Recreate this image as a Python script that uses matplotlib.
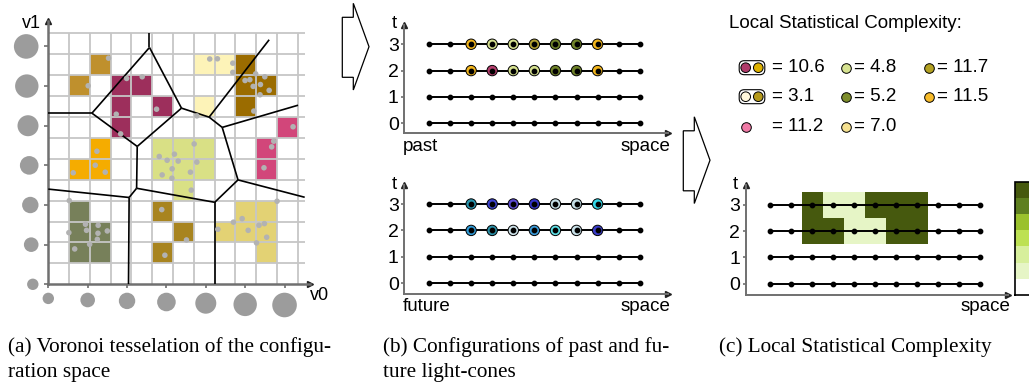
import numpy as np
import matplotlib
matplotlib.use("Agg")
import matplotlib.pyplot as plt
from matplotlib.patches import Rectangle, Polygon, FancyBboxPatch
from matplotlib.colors import ListedColormap, BoundaryNorm
from matplotlib.cm import ScalarMappable

plt.rcParams['font.family'] = 'Liberation Sans'

W, H = 1029, 382

# ---------------- (a) configuration space ----------------
cluster_colors = ['#bf902d', '#9d2f5c', '#fdf3b8', '#9b6c00', '#d2467a',
                  '#f5ac00', '#d9e085', '#77805a', '#a8841f', '#e3d274']
cluster_cells = [
    [(2, 10), (1, 9)],
    [(3, 9), (4, 9), (3, 8), (3, 7), (5, 8)],
    [(7, 10), (8, 10), (7, 8)],
    [(9, 10), (9, 9), (9, 8), (10, 9)],
    [(11, 7), (10, 6), (10, 5)],
    [(2, 6), (2, 5), (1, 5)],
    [(5, 6), (6, 6), (7, 6), (5, 5), (6, 5), (7, 5), (6, 4)],
    [(1, 3), (1, 2), (2, 2), (1, 1), (2, 1)],
    [(5, 3), (6, 2), (5, 1)],
    [(9, 3), (10, 3), (8, 2), (9, 2), (10, 2), (10, 1)],
]

samples_v0 = [2.90, 1.92, 3.77, 4.52, 3.27, 3.48, 5.21, 7.77, 8.14, 8.88, 8.88, 7.15,
              9.47, 9.70, 9.98, 10.42, 9.86, 10.21, 10.63, 10.19, 9.89,
              11.78, 10.85, 10.75, 10.38, 2.34, 2.26, 2.74, 1.20,
              7.02, 5.34, 6.07, 5.72, 6.25, 7.15, 5.96, 5.48, 5.95, 6.84, 6.88,
              1.01, 1.79, 1.84, 2.40, 2.84, 0.99, 2.39, 2.36, 1.99, 1.27,
              5.46, 6.65, 5.61, 11.01, 9.33, 8.91, 8.16, 9.62, 10.14, 10.40, 10.51, 10.02]
samples_v1 = [10.81, 9.49, 9.84, 9.92, 8.13, 7.19, 8.37, 10.77, 10.78, 10.57, 10.13, 8.05,
              9.74, 9.78, 10.06, 9.92, 9.46, 9.55, 9.27, 9.06, 8.28,
              7.53, 6.84, 6.57, 5.57, 6.36, 5.69, 5.36, 5.33,
              6.71, 6.11, 6.22, 5.93, 5.89, 5.84, 5.52, 5.23, 5.07, 5.36, 4.50,
              4.00, 2.87, 2.58, 2.82, 2.55, 2.47, 2.44, 2.15, 1.91, 1.69,
              3.57, 2.12, 1.39, 3.97, 3.14, 2.97, 2.63, 2.58, 2.82, 2.90, 2.25, 1.98]

vor_nodes = {
    'A': (4.87, 12.01), 'B': (4.87, 11.32), 'C': (2.10, 8.18), 'D': (0.0, 8.18),
    'E': (6.41, 8.42), 'F': (4.28, 6.59), 'G': (7.74, 7.99), 'H': (10.63, 11.69),
    'I': (8.37, 7.50), 'J': (12.02, 8.56), 'K': (9.13, 4.99), 'L': (12.34, 4.16),
    'M': (8.01, 3.92), 'N': (8.01, 0.0), 'O': (4.25, 4.59), 'P': (3.89, 4.15),
    'Q': (0.0, 4.55), 'R': (3.86, 0.0),
}
vor_edges = ['AB', 'BC', 'BE', 'DC', 'CF', 'FE', 'EG', 'GH', 'GI', 'IJ', 'IK',
             'KL', 'KM', 'MN', 'MO', 'FO', 'OP', 'PQ', 'PR']

tick_step = 1.895
marginal_radius = [5.7, 7.3, 8.2, 9.3, 10.5, 11.7, 12.3]   # px

# ---------------- (b) light-cones ----------------
space = np.arange(11)
times = [0, 1, 2, 3]
cone_cols = [2, 3, 4, 5, 6, 7, 8]
past_t3 = ['#f2b51c', '#d5e08f', '#d5e08f', '#b3a032', '#6f8229', '#6f8229', '#f2b51c']
past_t2 = ['#f2b51c', '#b33d6c', '#d5e08f', '#d5e08f', '#6f8229', '#6f8229', '#f2b51c']
future_t3 = ['#2996ae', '#3d43d0', '#5b4bd2', '#3434c8', '#c5dfe6', '#c5dfe6', '#34d8e8']
future_t2 = ['#2f9ad6', '#2a8fa6', '#cfe3ea', '#3a9ad8', '#5edfe6', '#c8e0e8', '#3a3bc8']

# ---------------- (c) local statistical complexity ----------------
lsc_cols = [2, 3, 4, 5, 6, 7]
lsc_t2 = [11.5, 10.6, 3.1, 3.1, 11.7, 11.7]
lsc_t3 = [11.5, 3.1, 3.1, 11.7, 11.2, 11.7]
cbar_colors = ['#ffffff', '#e6f5c6', '#d7ef9c', '#bde153', '#9ac12c', '#5e7f1f', '#46590e']
cbar_bounds = np.linspace(0, 12, 8)

legend_pairs = [['#b03a6a', '#ddb100'], ['#d7e391'], ['#b3a122'],
                ['#fff7dc', '#b5991a'], ['#7d8d2b'], ['#f7bb2a'],
                ['#f07aa6'], ['#f5e190']]
legend_values = ['10.6', '4.8', '11.7', '3.1', '5.2', '11.5', '11.2', '7.0']

fig = plt.figure(figsize=(W / 100, H / 100), dpi=100)


def px_axes(x0, y0, x1, y1):
    return fig.add_axes([x0 / W, 1 - y1 / H, (x1 - x0) / W, (y1 - y0) / H])


def ftext(x, y, s, **kw):
    return fig.text(x / W, 1 - y / H, s, **kw)


AXC = '#707070'


def arrow_axes(ax, lw=1.4):
    for s in ['top', 'right']:
        ax.spines[s].set_visible(False)
    for s in ['left', 'bottom']:
        ax.spines[s].set_color(AXC)
        ax.spines[s].set_linewidth(lw)
    ax.plot(1, 0, '>', color='#222222', ms=4.5, transform=ax.transAxes, clip_on=False)
    ax.plot(0, 1, '^', color='#222222', ms=4.5, transform=ax.transAxes, clip_on=False)
    ax.set_facecolor('none')


# ---- panel (a)
ax = px_axes(48.3, 20.7, 310.1, 284.3)
ax.set_xlim(0, 12.6)
ax.set_ylim(0, 12.6)
for color, cells in zip(cluster_colors, cluster_cells):
    for c, r in cells:
        ax.add_patch(Rectangle((c, r), 1, 1, facecolor=color, edgecolor='none', zorder=1))
ax.vlines(np.arange(1, 13), 0, 12, color='#c6c6c6', lw=1.3, zorder=2)
ax.hlines(np.arange(1, 13), 0, 12.35, color='#c6c6c6', lw=1.3, zorder=2)
for e in vor_edges:
    (x0, y0), (x1, y1) = vor_nodes[e[0]], vor_nodes[e[1]]
    ax.plot([x0, x1], [y0, y1], color='black', lw=1.2, zorder=3, solid_capstyle='butt')
ax.scatter(samples_v0, samples_v1, s=16, color='#b2b2b2', edgecolors='none', zorder=4)
arrow_axes(ax, lw=1.8)
ticks = np.arange(7) * tick_step
ax.set_xticks(ticks)
ax.set_yticks(ticks)
ax.set_xticklabels([])
ax.set_yticklabels([])
ax.tick_params(direction='out', length=3, width=1.2, color=AXC)
# marginal size circles
cell_w, cell_h = 20.78, 20.92
rad = np.array(marginal_radius)
ax.scatter(ticks, -(8.4 + rad) / cell_h, s=(2 * rad * 0.72) ** 2, color='#9c9c9c',
           edgecolors='none', clip_on=False)
ax.scatter(-(9.8 + rad) / cell_w, ticks, s=(2 * rad * 0.72) ** 2, color='#9c9c9c',
           edgecolors='none', clip_on=False)
ftext(31.5, 24, 'v1', fontsize=13, ha='center', va='center')
ftext(319, 296, 'v0', fontsize=13, ha='center', va='center')


# ---- panel (b) and (c) light-cone grids
def cone_axes(x0, y0, x1, y1, ylo, yhi):
    a = px_axes(x0, y0, x1, y1)
    a.set_xlim(-1.17, 11.34)
    a.set_ylim(ylo, yhi)
    for t in times:
        a.plot(space, [t] * len(space), color='black', lw=1.4, zorder=2)
    arrow_axes(a)
    a.set_xticks([])
    a.set_yticks(times)
    a.tick_params(axis='y', direction='out', length=2.5, width=1.2, color=AXC,
                  labelsize=14, pad=1.5)
    return a


def cone_dots(a, colored):
    for t, cols in colored:
        a.scatter(cone_cols, [t] * len(cone_cols), s=56, c=cols, edgecolors='black',
                  linewidths=0.7, zorder=3)
    for t in times:
        a.scatter(space, [t] * len(space), s=10, color='black', zorder=4)


ax_p = cone_axes(404.3, 25, 668, 133.3, -0.38, 3.73)
cone_dots(ax_p, [(3, past_t3), (2, past_t2)])
ax_f = cone_axes(404.3, 185, 668, 294.3, -0.42, 3.72)
cone_dots(ax_f, [(3, future_t3), (2, future_t2)])

ax_c = cone_axes(745.7, 185, 1008.3, 295, -0.43, 3.76)
cmap = ListedColormap(cbar_colors)
norm = BoundaryNorm(cbar_bounds, cmap.N)
xe = np.arange(lsc_cols[0] - 0.5, lsc_cols[-1] + 1.0)
ye = np.array([1.5, 2.5, 3.5])
ax_c.pcolormesh(xe, ye, np.array([lsc_t2, lsc_t3]), cmap=cmap, norm=norm, zorder=1)
ax_c.scatter(np.tile(space, 4), np.repeat(times, len(space)), s=10, color='black', zorder=4)

cax = px_axes(1014.7, 181.7, 1050, 295)
cb = fig.colorbar(ScalarMappable(norm=norm, cmap=cmap), cax=cax, ticks=[])
cb.outline.set_linewidth(1.2)

# axis labels
ftext(394.5, 24, 't', fontsize=13.5, ha='center', va='center')
ftext(394.5, 184, 't', fontsize=13.5, ha='center', va='center')
ftext(735, 184, 't', fontsize=13.5, ha='center', va='center')
ftext(403, 146.5, 'past', fontsize=13.5, ha='left', va='center')
ftext(670, 146.5, 'space', fontsize=13.5, ha='right', va='center')
ftext(403, 306.5, 'future', fontsize=13.5, ha='left', va='center')
ftext(670, 306.5, 'space', fontsize=13.5, ha='right', va='center')
ftext(1010, 306.5, 'space', fontsize=13.5, ha='right', va='center')

# legend of (c)
ftext(729.3, 24, 'Local Statistical Complexity:', fontsize=13.5, ha='left', va='center')
lax = px_axes(720, 45, 1029, 140)
lax.set_xlim(720, 1029)
lax.set_ylim(140, 45)
lax.axis('off')
col_circle = [745.7, 845.7, 929.0]
col_text = [771.7, 854.0, 937.3]
row_y = [67.7, 96.7, 126.7]
for i, (cols, val) in enumerate(zip(legend_pairs, legend_values)):
    r, c = divmod(i, 3)
    cx = col_circle[c] + 12.6 * np.arange(len(cols))
    lax.scatter(cx, [row_y[r]] * len(cols), s=48, c=cols, edgecolors='black',
                linewidths=0.7, zorder=3)
    if len(cols) > 1:
        lax.add_patch(FancyBboxPatch((cx[0] - 6.5, row_y[r] - 7), cx[-1] - cx[0] + 13, 14,
                                     boxstyle='round,pad=0,rounding_size=5',
                                     fc='none', ec='black', lw=0.8))
    lax.text(col_text[c], row_y[r], '= ' + val, fontsize=13.5, ha='left', va='center')

# block arrows between panels
arrow_shape = np.array([(-26.7, -29.4), (-15.7, -29.4), (-15.7, -43.4), (0, 0),
                        (-15.7, 43.3), (-15.7, 30.6), (-26.7, 30.6)])
for tip in [(369, 46.7), (710, 160.2)]:
    pts = arrow_shape + np.array(tip)
    fig.patches.append(Polygon(np.c_[pts[:, 0] / W, 1 - pts[:, 1] / H], closed=True,
                               fc='white', ec='black', lw=0.9, transform=fig.transFigure))

# captions
cap = dict(fontsize=15.3, family='Liberation Serif', ha='left', va='center')
ftext(8, 347, '(a) Voronoi tesselation of the configu-', **cap)
ftext(8, 372, 'ration space', **cap)
ftext(383, 347, '(b) Configurations of past and fu-', **cap)
ftext(383, 372, 'ture light-cones', **cap)
ftext(719, 347, '(c) Local Statistical Complexity', **cap)

fig.savefig('out.png', dpi=100)
